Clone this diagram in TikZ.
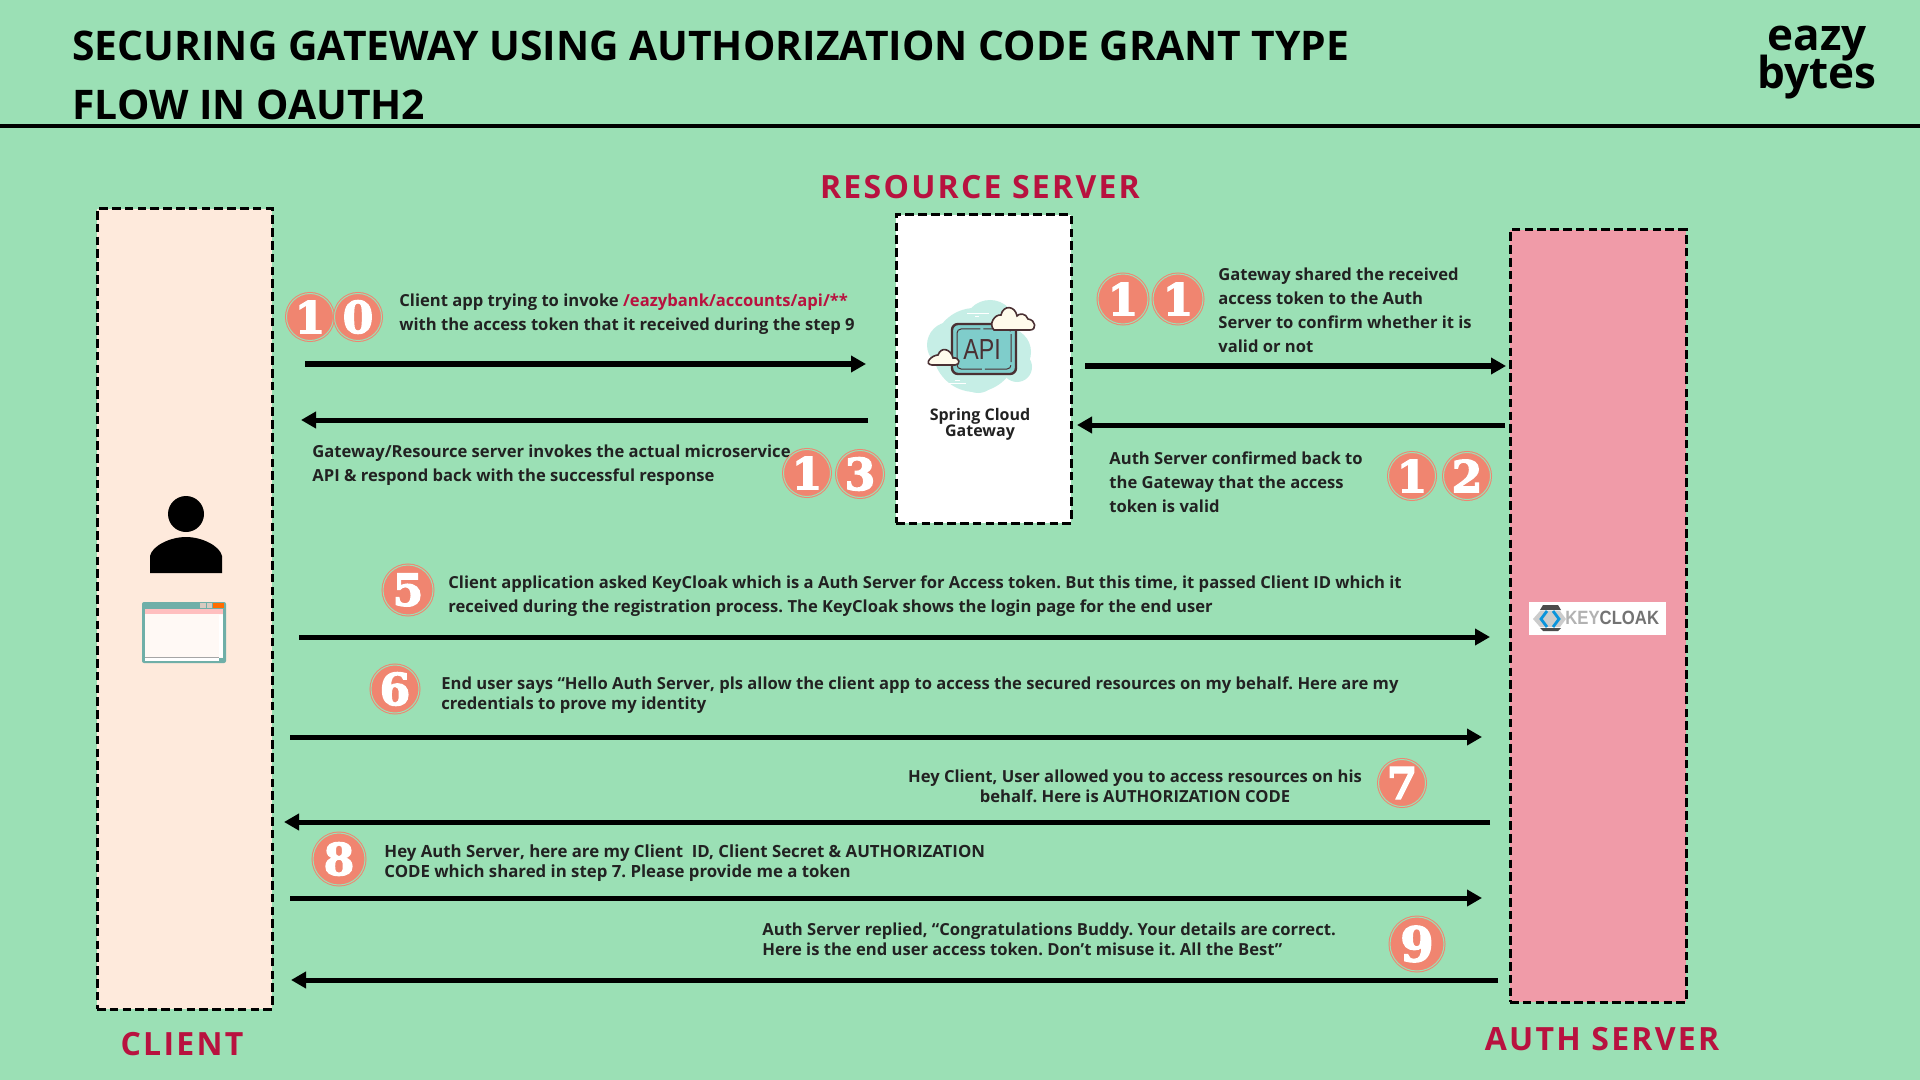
\documentclass[tikz,border=0pt]{standalone}
\usepackage{fontspec}
\setmainfont{Open Sans}
\newfontfamily\badgefont{DejaVu Serif}[BoldFeatures={FakeBold=3}]
\newfontfamily\logofont{Liberation Sans}
\newfontfamily\rolefont{Open Sans}[LetterSpace=7]
\usetikzlibrary{arrows.meta,calc,positioning}
\definecolor{pagegreen}{HTML}{9BE0B5}
\definecolor{clientfill}{HTML}{FEEADC}
\definecolor{authfill}{HTML}{F09BA8}
\definecolor{rolered}{HTML}{B8123F}
\definecolor{badgered}{HTML}{F08570}
\definecolor{inktext}{HTML}{222222}
\definecolor{cloudblue}{HTML}{C6EEE6}
\definecolor{screenblue}{HTML}{7FCDCB}
\definecolor{iconbrown}{HTML}{4A3033}
\definecolor{cloudcream}{HTML}{FFFBEC}
\definecolor{winteal}{HTML}{6FAFA8}
\tikzset{
  box/.style={draw=black,line width=1.5pt,dash pattern=on 4.3pt off 2.1pt,inner sep=0pt,rectangle},
  flow/.style={-{Triangle[length=7.5pt,width=8pt]},line width=2.5pt},
  badge/.style={circle,fill=badgered,draw=badgered,double=pagegreen,double distance=0.5pt,line width=0.5pt,
    minimum size=23.5pt,inner sep=0pt,text=white,font=\badgefont\bfseries\fontsize{22}{22}\selectfont},
  note/.style={text=inktext,align=left,anchor=west,inner sep=0pt,font=\bfseries\frenchspacing\fontsize{8.3}{12}\selectfont},
  tightnote/.style={note,font=\bfseries\frenchspacing\fontsize{8.3}{10}\selectfont},
  role/.style={text=rolered,inner sep=0pt,font=\rolefont\bfseries\fontsize{16}{16}\selectfont},
  heading/.style={text=black,anchor=west,inner sep=0pt,font=\bfseries\fontsize{20.4}{21}\selectfont},
  brandtext/.style={anchor=base,inner sep=0pt,font=\bfseries\fontsize{22}{22}\selectfont}
}
\begin{document}
\begin{tikzpicture}[x=0.5pt,y=-0.5pt]
\useasboundingbox (0,0) rectangle (1920,1080);
\fill[pagegreen] (0,0) rectangle (1920,1080);
% header
\node[heading] (title1) at (72,46) {SECURING GATEWAY USING AUTHORIZATION CODE GRANT TYPE};
\node[heading] (title2) at (72,105) {FLOW IN OAUTH2};
\node[brandtext] (brand1) at (1817,51) {eazy};
\node[brandtext] (brand2) at (1817,89) {bytes};
\coordinate (ruleL) at (0,126);
\coordinate (ruleR) at (1920,126);
\draw[line width=2.3pt] (ruleL) -- (ruleR);
% the three columns
\node[box,fill=clientfill,minimum width=87.5pt,minimum height=400pt] (client) at (184.5,609) {};
\node[box,fill=white,minimum width=87.5pt,minimum height=154pt] (gateway) at (983.5,369) {};
\node[box,fill=authfill,minimum width=88pt,minimum height=386pt] (auth) at (1598,616) {};
\node[role] (clientname) at (182,1044) {CLIENT};
\node[role] (gatewayname) at (980,187) {RESOURCE SERVER};
\node[role] (authname) at (1602,1039) {AUTH SERVER};
% end user
\fill (186,514) circle (18);
\fill (150,573) -- (150,556) .. controls (152,546) and (170,537) .. (186,537)
  .. controls (202,537) and (220,546) .. (222,556) -- (222,573) -- cycle;
% browser window
\fill[winteal,rounded corners=1pt] (142,602) rectangle (226,663);
\fill[pink] (145,609) rectangle (223,614);
\fill[clientfill!30!white] (145,614) rectangle (223,658);
\fill[white] (219,615) rectangle (223,657);
\fill[white] (145,658) rectangle (219,661);
\fill[gray!70] (145,657) rectangle (219,658);
\fill[orange!85!red] (213,603) rectangle (224,608);
\fill[clientfill!70!gray] (200,603) rectangle (206,608);
\fill[clientfill!70!gray] (207,603) rectangle (212,608);
% api icon
\fill[cloudblue] (975,350) circle (42);
\fill[cloudblue] (990,326) circle (26);
\fill[cloudblue] (950,345) circle (23);
\fill[cloudblue] (1007,352) circle (24);
\fill[cloudblue] (1017,367) circle (15);
\fill[cloudblue] (978,374) circle (19);
\draw[white,line width=0.5pt] (967,314) -- (989,314) (975,317) -- (979,317) (944,383) -- (966,383) (955,380) -- (960,380);
\draw[iconbrown,line width=1.2pt,fill=screenblue,rounded corners=3pt] (952,324) rectangle (1016,374);
\draw[iconbrown,line width=0.5pt,rounded corners=2pt,dash pattern=on 14pt off 1.5pt] (957,329) rectangle (1011,369);
\node[text=iconbrown,inner sep=0pt,font=\logofont\fontsize{14.5}{14.5}\selectfont,xscale=0.8] (apitext) at (982,350) {API};
\draw[iconbrown,line width=0.8pt,fill=cloudcream] (994,330) -- (1030,330)
  .. controls (1037,330) and (1036,320) .. (1028,319) .. controls (1026,313) and (1019,313) .. (1017,316)
  .. controls (1015,305) and (1003,305) .. (1001,315) .. controls (995,314) and (988,324) .. (994,330) -- cycle;
\draw[iconbrown,line width=0.8pt,fill=cloudcream] (932,365) -- (955,365)
  .. controls (961,365) and (960,357) .. (953,358) .. controls (951,349) and (941,346) .. (938,355)
  .. controls (932,355) and (923,364) .. (932,365) -- cycle;
\node[inner sep=0pt,align=center,text=inktext,font=\bfseries\fontsize{8}{10}\selectfont] (gatewaytext) at (980,424.5) {Spring Cloud\\[-2pt]Gateway};
% keycloak logo
\node[fill=white,inner sep=0pt,minimum width=68.5pt,minimum height=16.5pt] (logo) at (1597.5,618.5) {};
\fill[gray!40] (1533,619) -- (1540,611) -- (1560,611) -- (1566,619) -- (1560,627) -- (1540,627) -- cycle;
\fill[black!70] (1543,605) -- (1558,605) -- (1561,610) -- (1540,610) -- cycle;
\fill[black!70] (1543,631) -- (1558,631) -- (1561,628) -- (1540,628) -- cycle;
\draw[cyan!80!blue,line width=1.4pt] (1547,611) -- (1541,619) -- (1547,627) (1553,611) -- (1559,619) -- (1553,627);
\node[anchor=west,inner sep=0pt,xscale=0.87,font=\logofont\bfseries\fontsize{9.6}{9.6}\selectfont] (logotext) at (1565,618) {\textcolor{gray!60}{KEY}\textcolor{black!55}{CLOAK}};
% step 10 and 13
\node[badge] (b10a) at (310,317) {1};
\node[badge] (b10b) at (358,317) {0};
\node[note] (t10) at (399,314) {Client app trying to invoke \textcolor{rolered}{/eazybank/accounts/api/**}\\with the access token that it received during the step 9};
\coordinate (a10s) at (305,364);
\coordinate (a10e) at (866,364);
\draw[flow] (a10s) -- (a10e);
\coordinate (a13s) at (868,420);
\coordinate (a13e) at (301,420);
\draw[flow] (a13s) -- (a13e);
\node[note] (t13) at (312,465) {Gateway/Resource server invokes the actual microservice\\API \& respond back with the successful response};
\node[badge] (b13a) at (807,473) {1};
\node[badge] (b13b) at (860,474) {3};
% step 11 and 12
\node[badge,minimum size=25pt] (b11a) at (1123,299) {1};
\node[badge,minimum size=25pt] (b11b) at (1178,299) {1};
\node[note] (t11) at (1218,310) {Gateway shared the received\\access token to the Auth\\Server to confirm whether it is\\valid or not};
\coordinate (a11s) at (1085,366);
\coordinate (a11e) at (1506,366);
\draw[flow] (a11s) -- (a11e);
\coordinate (a12s) at (1505,425);
\coordinate (a12e) at (1077,425);
\draw[flow] (a12s) -- (a12e);
\node[note] (t12) at (1109,482) {Auth Server confirmed back to\\the Gateway that the access\\token is valid};
\node[badge] (b12a) at (1412,476) {1};
\node[badge] (b12b) at (1467,476) {2};
% steps 5 to 9
\node[badge,minimum size=25pt] (b5) at (408,590) {5};
\node[note] (t5) at (448,596.5) {Client application asked KeyCloak which is a Auth Server for Access token. But this time, it passed Client ID which it\\received during the registration process. The KeyCloak shows the login page for the end user};
\coordinate (a5s) at (299,637);
\coordinate (a5e) at (1490,637);
\draw[flow] (a5s) -- (a5e);
\node[badge,minimum size=24pt] (b6) at (395,689) {6};
\node[tightnote] (t6) at (441,695) {End user says “Hello Auth Server, pls allow the client app to access the secured resources on my behalf. Here are my\\credentials to prove my identity};
\coordinate (a6s) at (290,737);
\coordinate (a6e) at (1482,737);
\draw[flow] (a6s) -- (a6e);
\node[tightnote,anchor=center,align=center] (t7) at (1135,786) {Hey Client, User allowed you to access resources on his\\behalf. Here is AUTHORIZATION CODE};
\node[badge] (b7) at (1402,783) {7};
\coordinate (a7s) at (1490,822);
\coordinate (a7e) at (284,822);
\draw[flow] (a7s) -- (a7e);
\node[badge,minimum size=26pt] (b8) at (339,859) {8};
\node[tightnote,font=\bfseries\frenchspacing\fontsize{8.4}{10}\selectfont] (t8) at (384,863) {Hey Auth Server, here are my Client\ \ ID, Client Secret \& AUTHORIZATION\\CODE which shared in step 7. Please provide me a token};
\coordinate (a8s) at (290,898);
\coordinate (a8e) at (1482,898);
\draw[flow] (a8s) -- (a8e);
\node[tightnote] (t9) at (762,939.5) {Auth Server replied, “Congratulations Buddy. Your details are correct.\\Here is the end user access token. Don’t misuse it. All the Best”};
\node[badge,minimum size=27pt,font=\badgefont\bfseries\fontsize{24}{24}\selectfont] (b9) at (1417,944) {9};
\coordinate (a9s) at (1498,980);
\coordinate (a9e) at (291,980);
\draw[flow] (a9s) -- (a9e);
\end{tikzpicture}
\end{document}
